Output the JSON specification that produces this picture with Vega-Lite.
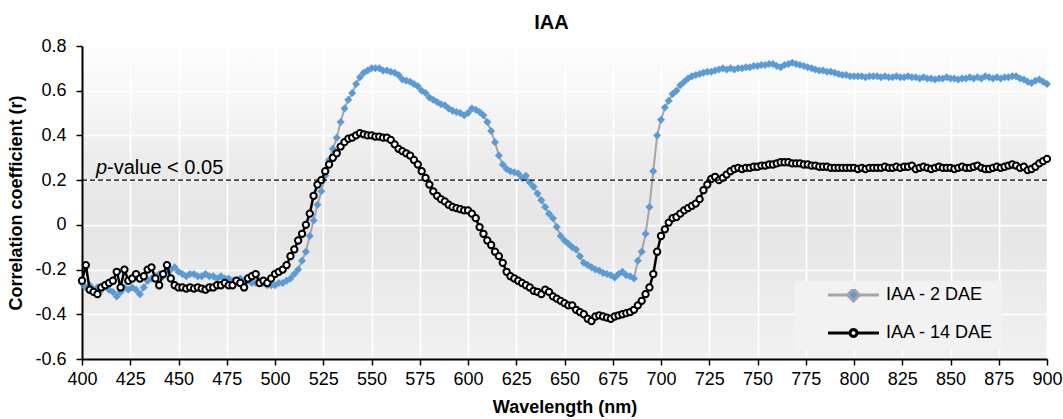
{
"$schema": "https://vega.github.io/schema/vega-lite/v6.json",
"width": 965, "height": 313,
"autosize": "none",
"padding": {"left": 82, "top": 46, "right": 16, "bottom": 60},
"background": "white",
"title": {"text": "IAA", "fontSize": 20, "fontWeight": "bold", "font": "Liberation Sans", "color": "#000000", "anchor": "middle", "dx": -13, "offset": 4},
"config": {
  "font": "Liberation Sans",
  "view": {"stroke": null, "fill": {"gradient": "linear", "x1": 0, "y1": 0, "x2": 0, "y2": 1, "stops": [
    {"offset": 0, "color": "#fdfdfd"}, {"offset": 0.2, "color": "#f5f5f5"}, {"offset": 0.42, "color": "#e9e9e9"}, {"offset": 0.6, "color": "#e6e6e6"}, {"offset": 1, "color": "#f1f1f1"}]}},
  "axis": {"labelFont": "Liberation Sans", "titleFont": "Liberation Sans", "labelFontSize": 18, "titleFontSize": 18, "titleFontWeight": "bold", "labelColor": "#000000", "titleColor": "#000000", "domainColor": "#000000", "domainWidth": 2, "tickColor": "#000000", "tickWidth": 1.5, "tickSize": 6, "grid": true, "gridColor": "#ffffff", "gridWidth": 1.6, "gridOpacity": 1, "labelFlush": false, "labelOverlap": false}
},
"data": {"values": [
{"w":400,"a":-0.26,"b":-0.25},{"w":402,"a":-0.28,"b":-0.18},{"w":404,"a":-0.27,"b":-0.29},{"w":406,"a":-0.29,"b":-0.30},{"w":408,"a":-0.28,"b":-0.31},
{"w":410,"a":-0.29,"b":-0.28},{"w":412,"a":-0.27,"b":-0.27},{"w":414,"a":-0.29,"b":-0.26},{"w":416,"a":-0.30,"b":-0.25},{"w":418,"a":-0.32,"b":-0.21},
{"w":420,"a":-0.30,"b":-0.28},{"w":422,"a":-0.28,"b":-0.20},{"w":424,"a":-0.29,"b":-0.25},{"w":426,"a":-0.28,"b":-0.24},{"w":428,"a":-0.29,"b":-0.22},
{"w":430,"a":-0.31,"b":-0.24},{"w":432,"a":-0.28,"b":-0.23},{"w":434,"a":-0.25,"b":-0.20},{"w":436,"a":-0.24,"b":-0.19},{"w":438,"a":-0.23,"b":-0.24},
{"w":440,"a":-0.22,"b":-0.27},{"w":442,"a":-0.23,"b":-0.22},{"w":444,"a":-0.21,"b":-0.18},{"w":446,"a":-0.20,"b":-0.24},{"w":448,"a":-0.19,"b":-0.27},
{"w":450,"a":-0.21,"b":-0.28},{"w":452,"a":-0.22,"b":-0.28},{"w":454,"a":-0.23,"b":-0.285},{"w":456,"a":-0.22,"b":-0.28},{"w":458,"a":-0.22,"b":-0.285},
{"w":460,"a":-0.23,"b":-0.28},{"w":462,"a":-0.23,"b":-0.285},{"w":464,"a":-0.22,"b":-0.29},{"w":466,"a":-0.23,"b":-0.28},{"w":468,"a":-0.23,"b":-0.28},
{"w":470,"a":-0.24,"b":-0.27},{"w":472,"a":-0.23,"b":-0.27},{"w":474,"a":-0.24,"b":-0.26},{"w":476,"a":-0.24,"b":-0.27},{"w":478,"a":-0.25,"b":-0.27},
{"w":480,"a":-0.25,"b":-0.25},{"w":482,"a":-0.24,"b":-0.26},{"w":484,"a":-0.25,"b":-0.28},{"w":486,"a":-0.25,"b":-0.24},{"w":488,"a":-0.26,"b":-0.23},
{"w":490,"a":-0.26,"b":-0.22},{"w":492,"a":-0.25,"b":-0.26},{"w":494,"a":-0.26,"b":-0.25},{"w":496,"a":-0.27,"b":-0.26},{"w":498,"a":-0.27,"b":-0.24},
{"w":500,"a":-0.27,"b":-0.22},{"w":502,"a":-0.26,"b":-0.21},{"w":504,"a":-0.26,"b":-0.20},{"w":506,"a":-0.25,"b":-0.18},{"w":508,"a":-0.24,"b":-0.14},
{"w":510,"a":-0.22,"b":-0.11},{"w":512,"a":-0.20,"b":-0.07},{"w":514,"a":-0.16,"b":-0.04},{"w":516,"a":-0.12,"b":0.00},{"w":518,"a":-0.05,"b":0.05},
{"w":520,"a":0.02,"b":0.13},{"w":522,"a":0.09,"b":0.18},{"w":524,"a":0.15,"b":0.20},{"w":526,"a":0.22,"b":0.24},{"w":528,"a":0.29,"b":0.27},
{"w":530,"a":0.34,"b":0.30},{"w":532,"a":0.39,"b":0.32},{"w":534,"a":0.46,"b":0.35},{"w":536,"a":0.52,"b":0.37},{"w":538,"a":0.56,"b":0.385},
{"w":540,"a":0.59,"b":0.39},{"w":542,"a":0.63,"b":0.40},{"w":544,"a":0.66,"b":0.41},{"w":546,"a":0.68,"b":0.405},{"w":548,"a":0.69,"b":0.40},
{"w":550,"a":0.70,"b":0.40},{"w":552,"a":0.70,"b":0.395},{"w":554,"a":0.70,"b":0.395},{"w":556,"a":0.69,"b":0.39},{"w":558,"a":0.69,"b":0.39},
{"w":560,"a":0.685,"b":0.38},{"w":562,"a":0.68,"b":0.36},{"w":564,"a":0.67,"b":0.34},{"w":566,"a":0.65,"b":0.33},{"w":568,"a":0.645,"b":0.32},
{"w":570,"a":0.64,"b":0.31},{"w":572,"a":0.63,"b":0.29},{"w":574,"a":0.62,"b":0.27},{"w":576,"a":0.60,"b":0.24},{"w":578,"a":0.59,"b":0.21},
{"w":580,"a":0.57,"b":0.18},{"w":582,"a":0.56,"b":0.15},{"w":584,"a":0.55,"b":0.13},{"w":586,"a":0.54,"b":0.115},{"w":588,"a":0.535,"b":0.105},
{"w":590,"a":0.52,"b":0.09},{"w":592,"a":0.51,"b":0.08},{"w":594,"a":0.505,"b":0.075},{"w":596,"a":0.50,"b":0.07},{"w":598,"a":0.49,"b":0.065},
{"w":600,"a":0.50,"b":0.065},{"w":602,"a":0.52,"b":0.05},{"w":604,"a":0.515,"b":0.03},{"w":606,"a":0.505,"b":-0.01},{"w":608,"a":0.49,"b":-0.04},
{"w":610,"a":0.46,"b":-0.07},{"w":612,"a":0.42,"b":-0.09},{"w":614,"a":0.37,"b":-0.12},{"w":616,"a":0.31,"b":-0.14},{"w":618,"a":0.27,"b":-0.17},
{"w":620,"a":0.25,"b":-0.21},{"w":622,"a":0.24,"b":-0.23},{"w":624,"a":0.235,"b":-0.24},{"w":626,"a":0.23,"b":-0.25},{"w":628,"a":0.21,"b":-0.26},
{"w":630,"a":0.22,"b":-0.27},{"w":632,"a":0.19,"b":-0.28},{"w":634,"a":0.17,"b":-0.295},{"w":636,"a":0.14,"b":-0.30},{"w":638,"a":0.11,"b":-0.31},
{"w":640,"a":0.08,"b":-0.29},{"w":642,"a":0.05,"b":-0.30},{"w":644,"a":0.03,"b":-0.32},{"w":646,"a":-0.01,"b":-0.33},{"w":648,"a":-0.05,"b":-0.34},
{"w":650,"a":-0.07,"b":-0.35},{"w":652,"a":-0.085,"b":-0.36},{"w":654,"a":-0.10,"b":-0.36},{"w":656,"a":-0.11,"b":-0.38},{"w":658,"a":-0.14,"b":-0.39},
{"w":660,"a":-0.17,"b":-0.40},{"w":662,"a":-0.18,"b":-0.42},{"w":664,"a":-0.19,"b":-0.43},{"w":666,"a":-0.20,"b":-0.41},{"w":668,"a":-0.205,"b":-0.405},
{"w":670,"a":-0.215,"b":-0.41},{"w":672,"a":-0.22,"b":-0.415},{"w":674,"a":-0.225,"b":-0.42},{"w":676,"a":-0.235,"b":-0.41},{"w":678,"a":-0.22,"b":-0.405},
{"w":680,"a":-0.21,"b":-0.40},{"w":682,"a":-0.225,"b":-0.395},{"w":684,"a":-0.23,"b":-0.39},{"w":686,"a":-0.24,"b":-0.38},{"w":688,"a":-0.16,"b":-0.36},
{"w":690,"a":-0.12,"b":-0.34},{"w":692,"a":-0.04,"b":-0.31},{"w":694,"a":0.08,"b":-0.28},{"w":696,"a":0.24,"b":-0.22},{"w":698,"a":0.40,"b":-0.12},
{"w":700,"a":0.47,"b":-0.05},{"w":702,"a":0.525,"b":-0.02},{"w":704,"a":0.555,"b":0.01},{"w":706,"a":0.585,"b":0.03},{"w":708,"a":0.60,"b":0.035},
{"w":710,"a":0.625,"b":0.05},{"w":712,"a":0.64,"b":0.065},{"w":714,"a":0.655,"b":0.075},{"w":716,"a":0.665,"b":0.085},{"w":718,"a":0.67,"b":0.095},
{"w":720,"a":0.675,"b":0.115},{"w":722,"a":0.68,"b":0.155},{"w":724,"a":0.685,"b":0.18},{"w":726,"a":0.685,"b":0.205},{"w":728,"a":0.69,"b":0.215},
{"w":730,"a":0.695,"b":0.20},{"w":732,"a":0.70,"b":0.21},{"w":734,"a":0.695,"b":0.225},{"w":736,"a":0.70,"b":0.24},{"w":738,"a":0.695,"b":0.25},
{"w":740,"a":0.70,"b":0.255},{"w":742,"a":0.70,"b":0.25},{"w":744,"a":0.705,"b":0.255},{"w":746,"a":0.705,"b":0.255},{"w":748,"a":0.71,"b":0.26},
{"w":750,"a":0.71,"b":0.26},{"w":752,"a":0.715,"b":0.265},{"w":754,"a":0.715,"b":0.265},{"w":756,"a":0.72,"b":0.27},{"w":758,"a":0.72,"b":0.27},
{"w":760,"a":0.71,"b":0.275},{"w":762,"a":0.705,"b":0.28},{"w":764,"a":0.715,"b":0.28},{"w":766,"a":0.72,"b":0.28},{"w":768,"a":0.725,"b":0.275},
{"w":770,"a":0.72,"b":0.275},{"w":772,"a":0.715,"b":0.275},{"w":774,"a":0.71,"b":0.27},{"w":776,"a":0.705,"b":0.27},{"w":778,"a":0.70,"b":0.265},
{"w":780,"a":0.695,"b":0.265},{"w":782,"a":0.69,"b":0.26},{"w":784,"a":0.69,"b":0.26},{"w":786,"a":0.685,"b":0.26},{"w":788,"a":0.685,"b":0.255},
{"w":790,"a":0.68,"b":0.255},{"w":792,"a":0.675,"b":0.255},{"w":794,"a":0.67,"b":0.255},{"w":796,"a":0.67,"b":0.255},{"w":798,"a":0.665,"b":0.255},
{"w":800,"a":0.665,"b":0.255},{"w":802,"a":0.665,"b":0.25},{"w":804,"a":0.665,"b":0.255},{"w":806,"a":0.66,"b":0.25},{"w":808,"a":0.665,"b":0.255},
{"w":810,"a":0.665,"b":0.255},{"w":812,"a":0.665,"b":0.255},{"w":814,"a":0.66,"b":0.255},{"w":816,"a":0.665,"b":0.26},{"w":818,"a":0.66,"b":0.255},
{"w":820,"a":0.66,"b":0.255},{"w":822,"a":0.665,"b":0.26},{"w":824,"a":0.66,"b":0.255},{"w":826,"a":0.66,"b":0.26},{"w":828,"a":0.665,"b":0.26},
{"w":830,"a":0.66,"b":0.265},{"w":832,"a":0.66,"b":0.25},{"w":834,"a":0.655,"b":0.255},{"w":836,"a":0.66,"b":0.26},{"w":838,"a":0.655,"b":0.255},
{"w":840,"a":0.655,"b":0.25},{"w":842,"a":0.65,"b":0.255},{"w":844,"a":0.655,"b":0.26},{"w":846,"a":0.655,"b":0.255},{"w":848,"a":0.66,"b":0.255},
{"w":850,"a":0.655,"b":0.255},{"w":852,"a":0.655,"b":0.25},{"w":854,"a":0.65,"b":0.255},{"w":856,"a":0.655,"b":0.26},{"w":858,"a":0.655,"b":0.255},
{"w":860,"a":0.66,"b":0.255},{"w":862,"a":0.655,"b":0.26},{"w":864,"a":0.66,"b":0.265},{"w":866,"a":0.655,"b":0.255},{"w":868,"a":0.665,"b":0.25},
{"w":870,"a":0.66,"b":0.25},{"w":872,"a":0.655,"b":0.255},{"w":874,"a":0.66,"b":0.26},{"w":876,"a":0.655,"b":0.255},{"w":878,"a":0.66,"b":0.26},
{"w":880,"a":0.66,"b":0.265},{"w":882,"a":0.665,"b":0.27},{"w":884,"a":0.665,"b":0.265},{"w":886,"a":0.655,"b":0.255},{"w":888,"a":0.65,"b":0.26},
{"w":890,"a":0.64,"b":0.245},{"w":892,"a":0.635,"b":0.25},{"w":894,"a":0.645,"b":0.26},{"w":896,"a":0.65,"b":0.275},{"w":898,"a":0.64,"b":0.285},
{"w":900,"a":0.63,"b":0.295}
]},
"layer": [
  {
    "mark": {"type": "line", "color": "#a5a5a5", "strokeWidth": 2},
    "encoding": {
      "x": {"field": "w", "type": "quantitative", "scale": {"domain": [400, 900], "nice": false, "zero": false},
        "axis": {"title": "Wavelength (nm)", "values": [400,425,450,475,500,525,550,575,600,625,650,675,700,725,750,775,800,825,850,875,900], "format": "d", "labelPadding": 5, "titlePadding": 10}},
      "y": {"field": "a", "type": "quantitative", "scale": {"domain": [-0.6, 0.8], "nice": false, "zero": false},
        "axis": {"title": "Correlation coefficient (r)", "values": [-0.6,-0.4,-0.2,0,0.2,0.4,0.6,0.8], "labelExpr": "datum.value == 0 ? '0' : (datum.value < 0 ? '-' : '') + format(abs(datum.value), '.1f')", "labelPadding": 10, "titlePadding": 9}},
      "stroke": {"datum": "IAA - 2 DAE", "type": "nominal",
        "scale": {"domain": ["IAA - 2 DAE", "IAA - 14 DAE"], "range": ["#a5a5a5", "#000000"]},
        "legend": {"title": null, "orient": "none", "legendX": 713, "legendY": 235, "padding": 8, "fillColor": "#f2f2f2",
          "symbolSize": 5776, "symbolStrokeWidth": 3, "clipHeight": 12, "rowPadding": 20, "labelOffset": 4,
          "labelFontSize": 18, "labelFont": "Liberation Sans", "labelColor": "#000000", "labelLimit": 400,
          "labelExpr": "datum.label + '\u2003\u2003'",
          "encode": {"symbols": {"update": {
            "shape": {"signal": "datum.value == 'IAA - 2 DAE' ? 'M-0.382,0L0.131,0M0.447,0L0.961,0M0.289,-0.158L0.447,0L0.289,0.158L0.131,0Z' : 'M-0.382,0L0.197,0M0.381,0L0.961,0M0.381,0L0.369,0.046L0.335,0.080L0.289,0.092L0.243,0.080L0.209,0.046L0.197,0L0.209,-0.046L0.243,-0.080L0.289,-0.092L0.335,-0.080L0.369,-0.046Z'"},
            "fill": {"signal": "datum.value == 'IAA - 2 DAE' ? '#5b9bd5' : '#ffffff'"},
            "fillOpacity": {"value": 1}
          }}}}
      }
    }
  },
  {
    "mark": {"type": "point", "shape": "diamond", "filled": true, "color": "#5b9bd5", "size": 64, "opacity": 1},
    "encoding": {
      "x": {"field": "w", "type": "quantitative", "scale": {"domain": [400, 900], "nice": false, "zero": false}},
      "y": {"field": "a", "type": "quantitative", "scale": {"domain": [-0.6, 0.8], "nice": false, "zero": false}}
    }
  },
  {
    "mark": {"type": "line", "strokeWidth": 2.5},
    "encoding": {
      "x": {"field": "w", "type": "quantitative", "scale": {"domain": [400, 900], "nice": false, "zero": false}},
      "y": {"field": "b", "type": "quantitative", "scale": {"domain": [-0.6, 0.8], "nice": false, "zero": false}},
      "stroke": {"datum": "IAA - 14 DAE", "type": "nominal"}
    }
  },
  {
    "mark": {"type": "point", "shape": "circle", "filled": true, "fill": "#ffffff", "stroke": "#000000", "strokeWidth": 2, "size": 40, "opacity": 1},
    "encoding": {
      "x": {"field": "w", "type": "quantitative", "scale": {"domain": [400, 900], "nice": false, "zero": false}},
      "y": {"field": "b", "type": "quantitative", "scale": {"domain": [-0.6, 0.8], "nice": false, "zero": false}}
    }
  },
  {
    "data": {"values": [{}]},
    "mark": {"type": "rule", "color": "#000000", "strokeWidth": 1.2, "strokeDash": [5, 3]},
    "encoding": {"y": {"datum": 0.2, "type": "quantitative"}}
  },
  {
    "data": {"values": [{}]},
    "mark": {"type": "text", "text": "p", "font": "Liberation Sans", "fontSize": 20, "fontStyle": "italic", "align": "left", "baseline": "alphabetic", "dy": -6, "color": "#000000"},
    "encoding": {"x": {"datum": 407.3, "type": "quantitative"}, "y": {"datum": 0.2, "type": "quantitative"}}
  },
  {
    "data": {"values": [{}]},
    "mark": {"type": "text", "text": "-value < 0.05", "font": "Liberation Sans", "fontSize": 20, "align": "left", "baseline": "alphabetic", "dy": -6, "dx": 11, "color": "#000000"},
    "encoding": {"x": {"datum": 407.3, "type": "quantitative"}, "y": {"datum": 0.2, "type": "quantitative"}}
  }
]
}
